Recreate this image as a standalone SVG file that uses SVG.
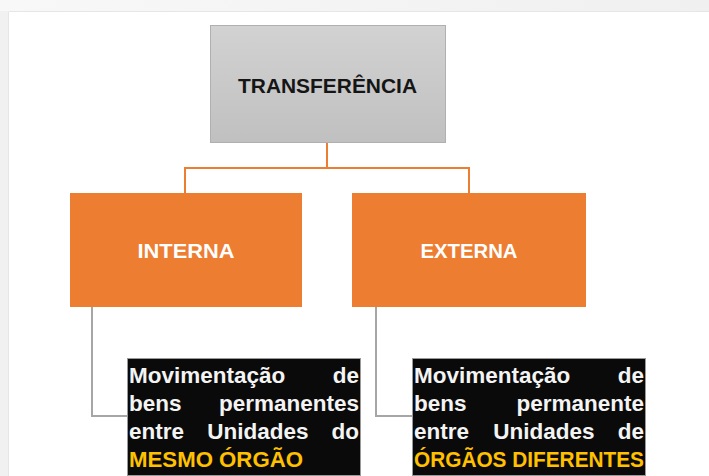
<svg xmlns="http://www.w3.org/2000/svg" width="709" height="476" viewBox="0 0 709 476">
  <defs>
    <linearGradient id="grayFill" x1="0" y1="0" x2="0" y2="1">
      <stop offset="0" stop-color="#d2d2d2"/>
      <stop offset="1" stop-color="#c0c0c0"/>
    </linearGradient>
    <linearGradient id="topBand" x1="0" y1="0" x2="1" y2="0">
      <stop offset="0" stop-color="#f8f8f8"/>
      <stop offset="1" stop-color="#f0f0f0"/>
    </linearGradient>
  </defs>
  <style>
    .orange { fill: #ed7d31; }
    .olabel { font-family: "Liberation Sans", Arial, sans-serif; font-weight: bold; font-size: 21px; fill: #ffffff; text-anchor: middle; }
    .black { fill: #0a0a0a; stroke: #9a9a9a; stroke-width: 1; }
    .btext { font-family: "Liberation Sans", Arial, sans-serif; font-weight: bold; font-size: 22.5px; fill: #f4f4f4; }
    .yellow { fill: #ffc000; }
    .oline { fill: none; stroke: #ed7d31; stroke-width: 2; }
    .gline { fill: none; stroke: #a6a6a6; stroke-width: 2; }
  </style>

  <!-- background frame -->
  <rect x="0" y="0" width="709" height="476" fill="#f1f1f1"/>
  <rect x="0" y="0" width="709" height="11" fill="url(#topBand)"/>
  <rect x="9" y="12" width="700" height="464" fill="#ffffff"/>
  <line x1="9" y1="11.5" x2="709" y2="11.5" stroke="#e6e6e6" stroke-width="1"/>
  <line x1="8.5" y1="12" x2="8.5" y2="476" stroke="#e6e6e6" stroke-width="1"/>

  <g id="connectors">
    <path class="oline" d="M327 143 V168 M185 193 V168 H469 V193"/>
    <path class="gline" d="M92 307 V416 H127"/>
    <path class="gline" d="M376 307 V416 H412"/>
  </g>

  <g id="node-transferencia">
    <rect x="210.5" y="25.5" width="235" height="117" fill="url(#grayFill)" stroke="#b0b0b0" stroke-width="1"/>
    <text x="327.5" y="93" font-family="'Liberation Sans', Arial, sans-serif" font-weight="bold" font-size="21" fill="#151515" text-anchor="middle" textLength="179" lengthAdjust="spacingAndGlyphs">TRANSFERÊNCIA</text>
  </g>

  <g id="node-interna">
    <rect class="orange" x="70" y="193" width="232" height="114"/>
    <text class="olabel" x="186" y="258" textLength="97" lengthAdjust="spacingAndGlyphs">INTERNA</text>
  </g>

  <g id="node-externa">
    <rect class="orange" x="352" y="193" width="234" height="114"/>
    <text class="olabel" x="469" y="258" textLength="97" lengthAdjust="spacingAndGlyphs">EXTERNA</text>
  </g>

  <g id="node-desc-interna">
    <rect class="black" x="127.5" y="358.5" width="233" height="117"/>
    <text class="btext" x="129" y="383">Movimentação</text>
    <text class="btext" x="359" y="383" text-anchor="end">de</text>
    <text class="btext" x="129" y="411">bens</text>
    <text class="btext" x="359" y="411" text-anchor="end">permanentes</text>
    <text class="btext" x="129" y="439">entre</text>
    <text class="btext" x="258" y="439" text-anchor="middle">Unidades</text>
    <text class="btext" x="359" y="439" text-anchor="end">do</text>
    <text class="btext yellow" x="129" y="467" textLength="174" lengthAdjust="spacingAndGlyphs">MESMO ÓRGÃO</text>
  </g>

  <g id="node-desc-externa">
    <rect class="black" x="412.5" y="358.5" width="233" height="117"/>
    <text class="btext" x="414" y="383">Movimentação</text>
    <text class="btext" x="644" y="383" text-anchor="end">de</text>
    <text class="btext" x="414" y="411">bens</text>
    <text class="btext" x="644" y="411" text-anchor="end">permanente</text>
    <text class="btext" x="414" y="439">entre</text>
    <text class="btext" x="544" y="439" text-anchor="middle">Unidades</text>
    <text class="btext" x="644" y="439" text-anchor="end">de</text>
    <text class="btext yellow" x="414" y="467" textLength="230" lengthAdjust="spacingAndGlyphs">ÓRGÃOS DIFERENTES</text>
  </g>
</svg>
